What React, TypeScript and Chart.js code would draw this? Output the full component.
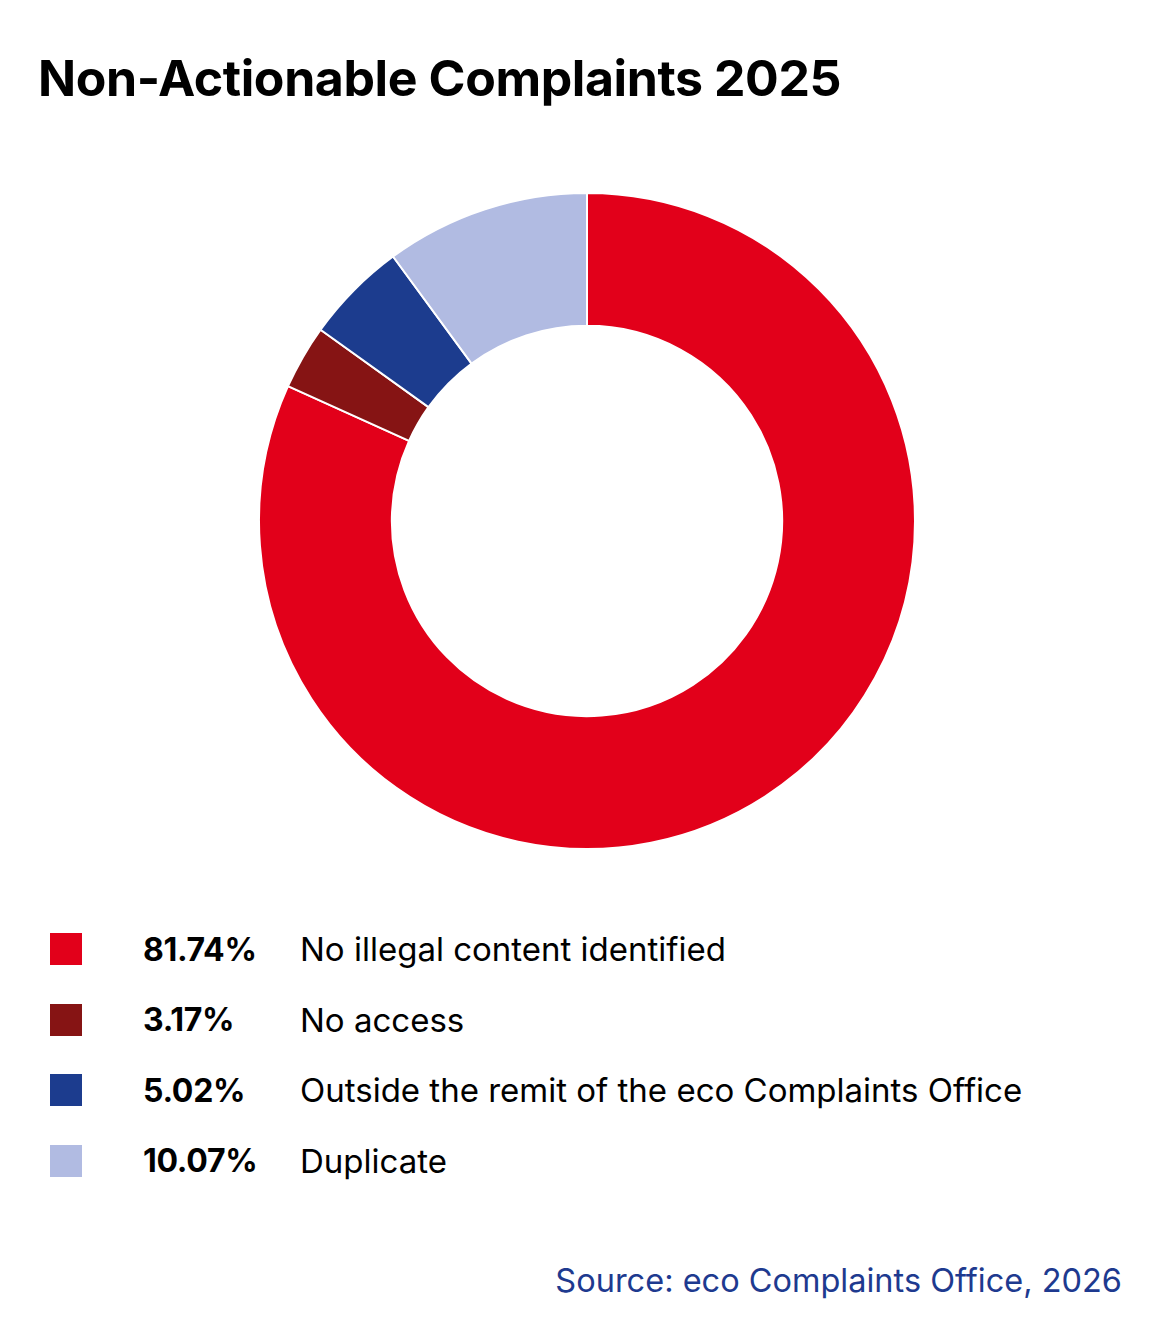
import { useEffect, useRef } from 'react'
import { Chart, DoughnutController, ArcElement } from 'chart.js'

Chart.register(DoughnutController, ArcElement)

const categories = [
  'No illegal content identified',
  'No access',
  'Outside the remit of the eco Complaints Office',
  'Duplicate',
]
const shares = [81.74, 3.17, 5.02, 10.07]
const colors = ['#e2001a', '#861414', '#1c3c8e', '#b1bbe2']

const FONT = 'Inter, "Noto Sans", sans-serif'

export default function App() {
  const canvasRef = useRef<HTMLCanvasElement>(null)
  const chartRef = useRef<Chart | null>(null)

  useEffect(() => {
    document.body.style.margin = '0'
    if (!canvasRef.current) return
    if (chartRef.current) { chartRef.current.destroy(); chartRef.current = null }

    chartRef.current = new Chart(canvasRef.current, {
      type: 'doughnut',
      data: {
        labels: categories,
        datasets: [{
          data: shares,
          backgroundColor: colors,
          borderColor: '#ffffff',
          borderWidth: 2,
        }],
      },
      options: {
        responsive: true,
        maintainAspectRatio: false,
        animation: false,
        cutout: '59.5%',
        layout: { padding: 0 },
        plugins: { legend: { display: false }, tooltip: { enabled: false } },
      },
    })

    return () => { chartRef.current?.destroy(); chartRef.current = null }
  }, [])

  return (
    <div style={{ position: 'relative', width: 1172, height: 1342, background: '#fff', fontFamily: FONT, color: '#000', overflow: 'hidden' }}>
      <div style={{ position: 'absolute', left: 38, top: 44, fontSize: 50, fontWeight: 700, letterSpacing: '-0.4px', lineHeight: '68px' }}>
        Non-Actionable Complaints 2025
      </div>

      <div style={{ position: 'absolute', left: 258, top: 191, width: 658, height: 660 }}>
        <canvas ref={canvasRef} />
      </div>

      <div style={{ position: 'absolute', left: 50, top: 914 }}>
        {categories.map((c, i) => (
          <div key={c} style={{ display: 'flex', alignItems: 'center', height: 70.5 }}>
            <span style={{ width: 32, height: 32, background: colors[i], display: 'inline-block' }} />
            <span style={{ marginLeft: 61, width: 157, fontSize: 32, fontWeight: 700, letterSpacing: '-0.3px' }}>
              {shares[i].toFixed(2)}%
            </span>
            <span style={{ fontSize: 33, fontWeight: 400 }}>{c}</span>
          </div>
        ))}
      </div>

      <div style={{ position: 'absolute', right: 50, top: 1261, fontSize: 32.5, color: '#1e3a8f' }}>
        Source: eco Complaints Office, 2026
      </div>
    </div>
  )
}
